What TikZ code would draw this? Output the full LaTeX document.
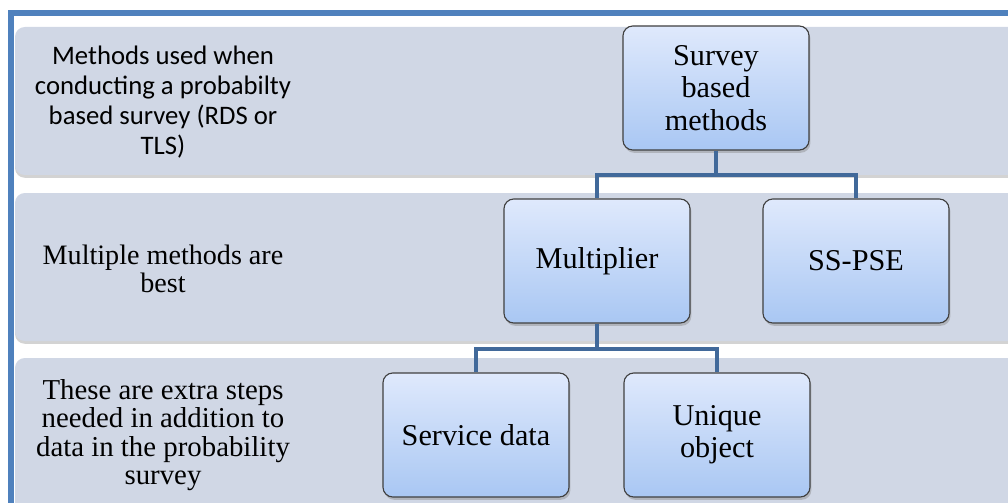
\documentclass[tikz,border=0pt]{standalone}
\usepackage{fontspec}
\setmainfont{Liberation Serif}
\newfontfamily\calib{Carlito}
\usetikzlibrary{shadows}
\definecolor{khung}{HTML}{4F81BD}
\definecolor{nen}{HTML}{D0D7E5}
\definecolor{noi}{HTML}{41699A}
\definecolor{hoptren}{HTML}{DFE9FC}
\definecolor{hopduoi}{HTML}{A9C7F3}
\begin{document}
\begin{tikzpicture}[x=.025cm,y=.025cm,
 band/.style={fill=nen,rounded corners=7pt,
  drop shadow={opacity=.35,shadow xshift=0pt,shadow yshift=-2pt}},
 hop/.style={draw=black!75,line width=.8pt,rounded corners=7pt,
  top color=hoptren,bottom color=hopduoi,
  minimum width=4.65cm,minimum height=3.1cm,align=center,
  font=\fontsize{21.5}{23}\selectfont,
  drop shadow={opacity=.4,shadow xshift=1pt,shadow yshift=-2pt}},
 chu1/.style={align=center,font=\calib\fontsize{19}{21.3}\selectfont},
 chu2/.style={align=center,font=\fontsize{20}{19.5}\selectfont},
 chu3/.style={align=center,font=\fontsize{20.5}{20.3}\selectfont}]
 \useasboundingbox (0,0) rectangle (1008,502);
 \clip (0,0) rectangle (1008,502);
 % nen
 \fill[band] (15,475) rectangle (1040,327);
 \fill[band] (15,309) rectangle (1040,161);
 \fill[band] (15,144) rectangle (1040,-30);
 \draw[khung,line width=4.3pt] (1040,489)--(11,489)--(11,-30);
 \path
 (163,400) node[chu1] (t1) {Methods used when\\conducting a probabilty\\based survey (RDS or\\TLS)} % <<< hang 1
 (163,233) node[chu2] (t2) {Multiple methods are\\best} % <<< hang 2
 (163,67) node[chu3] (t3) {These are extra steps\\needed in addition to\\data in the probability\\survey}; % <<< hang 3
 \node[hop] (survey) at (716,414) {Survey\\based\\methods};
 \node[hop] (mult) at (597,241) {Multiplier};
 \node[hop] (sspse) at (856,241) {SS-PSE};
 \node[hop] (service) at (476,67) {Service data};
 \node[hop] (unique) at (717,67) {Unique\\object};
 \begin{scope}[noi,line width=2.8pt]
 \draw (survey.south)--++(0,-24) -| (mult.north);
 \draw (survey.south)--++(0,-24) -| (sspse.north);
 \draw (mult.south)--++(0,-25) -| (service.north);
 \draw (mult.south)--++(0,-25) -| (unique.north);
 \end{scope}
\end{tikzpicture}
\end{document}
